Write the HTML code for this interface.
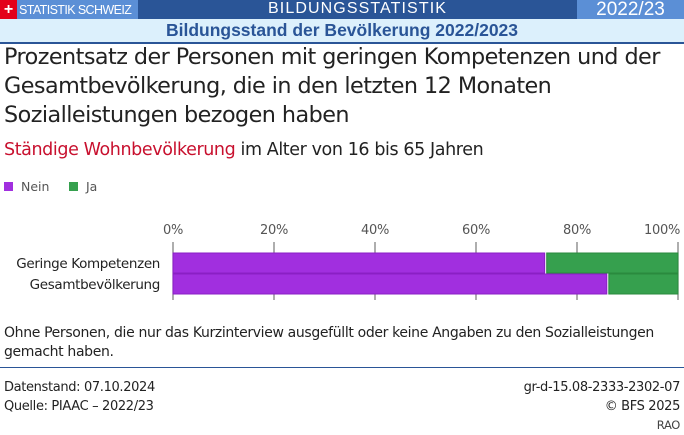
<!DOCTYPE html>
<html><head><meta charset="utf-8"><style>
body{margin:0;width:684px;height:435px;background:#fff;position:relative;overflow:hidden;font-family:"Liberation Sans",sans-serif;color:#222}
.a{position:absolute;white-space:nowrap}
</style></head><body>
<div class="a" style="left:0;top:0;width:684px;height:19px;background:#2a5597"></div>
<div class="a" style="left:0;top:0;width:138px;height:19px;background:#5b8fd6"></div>
<div class="a" style="left:0;top:0;width:17px;height:19px;background:#e3001b;color:#fff;font-size:16px;font-weight:bold;line-height:19px;text-align:center">+</div>
<div class="a" style="left:19px;top:3px;font-size:12.5px;color:#fff;letter-spacing:-0.6px">STATISTIK SCHWEIZ</div>
<div class="a" style="left:268px;top:0px;font-size:16px;color:#fff;letter-spacing:1.1px">BILDUNGSSTATISTIK</div>
<div class="a" style="left:577px;top:0;width:107px;height:19px;background:#5b8fd6;color:#fff;font-size:19px;line-height:20px;text-align:center">2022/23</div>
<div class="a" style="left:0;top:19px;width:684px;height:23px;background:#dcf0fc;border-bottom:2px solid #2a5597;color:#2a5597;font-weight:bold;font-size:17.5px;line-height:23px;text-align:center">Bildungsstand der Bevölkerung 2022/2023</div>
<div class="a" style="left:4px;top:43px;font-size:22.3px;line-height:29px;color:#222;font-family:'DejaVu Sans',sans-serif;letter-spacing:-0.55px">Prozentsatz der Personen mit geringen Kompetenzen und der<br>Gesamtbevölkerung, die in den letzten 12 Monaten<br>Sozialleistungen bezogen haben</div>
<div class="a" style="left:4px;top:140px;font-size:17.5px;font-family:'DejaVu Sans',sans-serif;letter-spacing:-0.4px"><span style="color:#c8102e">Ständige Wohnbevölkerung</span> im Alter von 16 bis 65 Jahren</div>
<div class="a" style="left:4px;top:179px;font-size:12.5px;color:#555;font-family:'DejaVu Sans',sans-serif"><span style="display:inline-block;width:9px;height:9px;background:#a12fdf;margin-right:8px"></span>Nein</div>
<div class="a" style="left:69px;top:179px;font-size:12.5px;color:#555;font-family:'DejaVu Sans',sans-serif"><span style="display:inline-block;width:9px;height:9px;background:#36a04e;margin-right:8px"></span>Ja</div>
<svg class="a" style="left:0;top:0" width="684" height="435" id="chart"></svg>
<div class="a" style="left:4px;top:324px;font-size:14px;line-height:19px;font-family:'DejaVu Sans',sans-serif;letter-spacing:-0.35px">Ohne Personen, die nur das Kurzinterview ausgefüllt oder keine Angaben zu den Sozialleistungen<br>gemacht haben.</div>
<div class="a" style="left:0;top:367px;width:684px;height:1px;background:#2a5597"></div>
<div class="a" style="left:4px;top:378px;font-size:13px;line-height:19px;font-family:'DejaVu Sans',sans-serif;letter-spacing:-0.35px">Datenstand: 07.10.2024<br>Quelle: PIAAC – 2022/23</div>
<div class="a" style="right:4px;top:378px;font-size:13px;line-height:19px;text-align:right;font-family:'DejaVu Sans',sans-serif;letter-spacing:-0.35px">gr-d-15.08-2333-2302-07<br>© BFS 2025<br><span style="font-size:11.5px;color:#444">RAO</span></div>
<script>
const categories=["Geringe Kompetenzen","Gesamtbevölkerung"];
const neinValues=[73.8,86.1];
const jaValues=[26.2,13.9];
const tickValues=[0,20,40,60,80,100];
const svg=document.getElementById('chart');
const NS='http://www.w3.org/2000/svg';
const x0=173,x1=678;
const xs=v=>x0+(x1-x0)*v/100;
const rowTop=i=>253+i*21;
function mk(t,a){const e=document.createElementNS(NS,t);for(const k in a)e.setAttribute(k,a[k]);svg.appendChild(e);return e;}
tickValues.forEach((v,i)=>{
 const l=mk('line',{x1:xs(v),x2:xs(v),y1:242,y2:300,stroke:'#777','stroke-width':1.2});
 
 
 const last=i===tickValues.length-1;
 const t=mk('text',{x:last?xs(v)+2:xs(v),y:234,'text-anchor':last?'end':'middle','font-size':13,fill:'#555','font-family':'DejaVu Sans, sans-serif','letter-spacing':'-0.3'});
 t.textContent=v+'%';
 
 
});
categories.forEach((c,i)=>{
 const y=rowTop(i);
 const b1=mk('rect',{x:xs(0),y:y,width:xs(neinValues[i])-xs(0)-1,height:20,fill:'#a12fdf',stroke:'#8a1fc4','stroke-width':1});
 
 
 const b2=mk('rect',{x:xs(neinValues[i])+1,y:y,width:xs(neinValues[i]+jaValues[i])-xs(neinValues[i])-1,height:20,fill:'#36a04e',stroke:'#2a8a3e','stroke-width':1});
 
 
 const t=mk('text',{x:160,y:y+15,'text-anchor':'end','font-size':13.5,fill:'#222','font-family':'DejaVu Sans, sans-serif','letter-spacing':'-0.35'});
 t.textContent=c;
 
 
});
</script>
</body></html>
